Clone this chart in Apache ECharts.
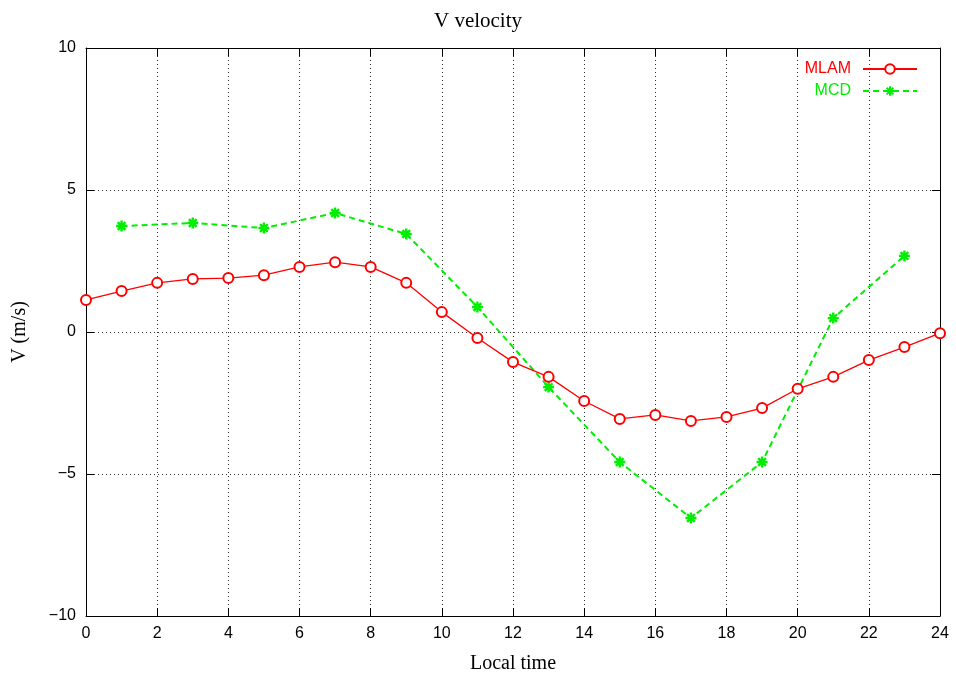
<!DOCTYPE html>
<html>
<head>
<meta charset="utf-8">
<script src="https://cdn.jsdelivr.net/npm/echarts@6/dist/echarts.min.js"></script>
<style>
  html, body { margin: 0; padding: 0; background: #fff; }
  #chart { width: 956px; height: 680px; }
</style>
</head>
<body>
<div id="chart"></div>
<script>
// values
var hoursMLAM = [0, 1, 2, 3, 4, 5, 6, 7, 8, 9, 10, 11, 12, 13, 14, 15, 16, 17, 18, 19, 20, 21, 22, 23, 24];
var mlam = [1.13, 1.44, 1.73, 1.87, 1.90, 2.0, 2.29, 2.46, 2.29, 1.73, 0.70, -0.21, -1.06, -1.58,
            -2.43, -3.06, -2.92, -3.13, -2.99, -2.68, -2.0, -1.58, -0.99, -0.53, -0.04];
var hoursMCD = [1, 3, 5, 7, 9, 11, 13, 15, 17, 19, 21, 23];
var mcd = [3.73, 3.84, 3.66, 4.19, 3.45, 0.88, -1.94, -4.58, -6.55, -4.58, 0.49, 2.68];

function pairs(xs, ys) {
    var out = [];
    for (var i = 0; i < xs.length; i++) out.push([xs[i], ys[i]]);
    return out;
}

var labelFont = "'Liberation Sans Narrow', 'Liberation Sans', Arial, sans-serif";
var serifFont = "'Liberation Serif', 'Times New Roman', serif";
var asterisk = 'path://M0,5L10,5M5,0L5,10M1.5,1.5L8.5,8.5M8.5,1.5L1.5,8.5';

var myChart = echarts.init(document.getElementById('chart'));
myChart.setOption({
    backgroundColor: '#fff',
    animation: false,
    title: {
        text: 'V velocity',
        left: 'center',
        top: 6,
        textStyle: { fontFamily: serifFont, fontSize: 21, fontWeight: 'normal', color: '#000' }
    },
    legend: {
        right: 33,
        top: 56,
        orient: 'vertical',
        align: 'right',
        itemGap: 6,
        itemWidth: 54,
        itemHeight: 12,
        textStyle: { fontFamily: labelFont, fontSize: 16, padding: [0, 7, 0, 0] },
        data: [
            { name: 'MLAM', textStyle: { color: '#ff0000' } },
            { name: 'MCD', textStyle: { color: '#00ee00' } }
        ]
    },
    grid: { left: 86, right: 16, top: 48, bottom: 64 },
    xAxis: [
        {
            type: 'value',
            min: 0, max: 24, interval: 2,
            name: 'Local time',
            nameLocation: 'middle',
            nameGap: 38,
            nameTextStyle: { fontFamily: serifFont, fontSize: 20, color: '#000' },
            axisLine: { show: true, onZero: false, lineStyle: { color: '#000', width: 1 } },
            axisTick: { inside: true, length: 8, lineStyle: { color: '#000' } },
            axisLabel: { margin: 10, fontFamily: labelFont, fontSize: 16, color: '#000' },
            splitLine: { show: true, lineStyle: { color: '#333', type: [1, 3], width: 1 } }
        },
        {
            type: 'value',
            position: 'top',
            min: 0, max: 24, interval: 2,
            axisLine: { show: true, onZero: false, lineStyle: { color: '#000', width: 1 } },
            axisTick: { inside: true, length: 8, lineStyle: { color: '#000' } },
            axisLabel: { show: false },
            splitLine: { show: false }
        }
    ],
    yAxis: [
        {
            type: 'value',
            min: -10, max: 10, interval: 5,
            name: 'V (m/s)',
            nameLocation: 'middle',
            nameGap: 56,
            nameTextStyle: { fontFamily: serifFont, fontSize: 20, color: '#000' },
            axisLine: { show: true, onZero: false, lineStyle: { color: '#000', width: 1 } },
            axisTick: { inside: true, length: 8, lineStyle: { color: '#000' } },
            axisLabel: {
                margin: 10, fontFamily: labelFont, fontSize: 16, color: '#000',
                formatter: function (v) { return String(v).replace('-', '\u2212'); }
            },
            splitLine: { show: true, lineStyle: { color: '#333', type: [1, 3], width: 1 } }
        },
        {
            type: 'value',
            position: 'right',
            min: -10, max: 10, interval: 5,
            axisLine: { show: true, onZero: false, lineStyle: { color: '#000', width: 1 } },
            axisTick: { inside: true, length: 8, lineStyle: { color: '#000' } },
            axisLabel: { show: false },
            splitLine: { show: false }
        }
    ],
    series: [
        {
            name: 'MLAM',
            type: 'line',
            data: pairs(hoursMLAM, mlam),
            symbol: 'emptyCircle',
            symbolSize: 10,
            lineStyle: { color: '#ff0000', width: 1.3 },
            itemStyle: { color: '#ff0000', borderColor: '#ff0000', borderWidth: 2.2 },
            z: 3
        },
        {
            name: 'MCD',
            type: 'line',
            data: pairs(hoursMCD, mcd),
            symbol: asterisk,
            symbolSize: 11,
            lineStyle: { color: '#00ee00', width: 2, type: [6, 4] },
            itemStyle: { color: '#00ee00', borderColor: '#00ee00', borderWidth: 2.4 },
            z: 2
        }
    ]
});
</script>
</body>
</html>
